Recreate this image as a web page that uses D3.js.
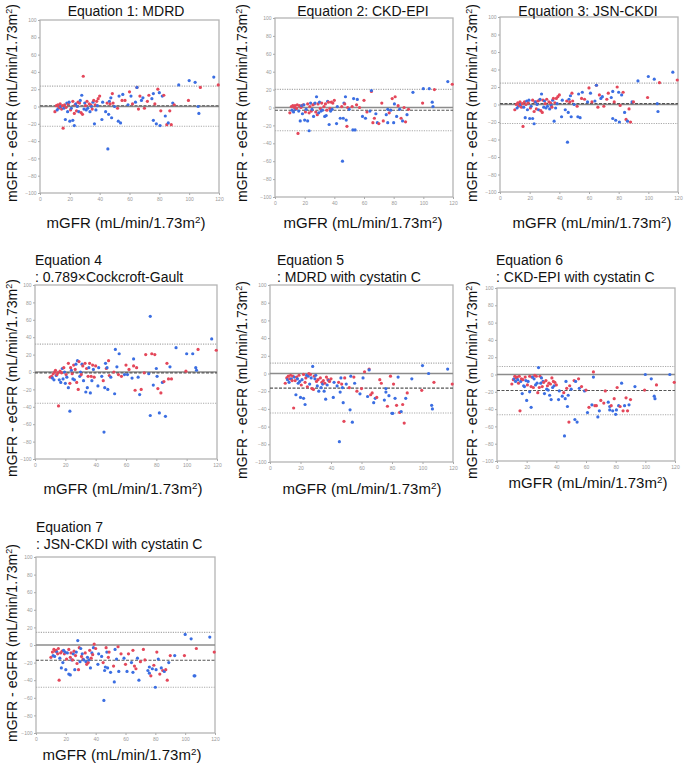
<!DOCTYPE html>
<html>
<head>
<meta charset="utf-8">
<script src="https://cdn.jsdelivr.net/npm/d3@7"></script>
<style>
  body { margin: 0; background: #fff; }
  svg { display: block; font-family: "Liberation Sans", Arial, sans-serif; }
  .tick text { fill: #999; font-size: 5px; }
  .tick line { stroke: #aaa; }
  .domain { display: none; }
</style>
</head>
<body>
<svg id="chart" width="685" height="763"></svg>
<script>
'use strict';

// measured GFR for each patient (same patients in all 7 panels)
const mgfr = [10, 11, 11.5, 12, 12.5, 13, 13.5, 14, 14.5, 15,
    15.5, 16, 16.5, 17, 17.5, 18, 18.5, 19, 19.5, 20,
    20.5, 21, 22, 22, 23, 23, 23.5, 24, 24.5, 25,
    25.5, 26, 26.5, 27, 27.5, 28, 28.5, 29, 29.5, 30,
    30.5, 31, 31.5, 32, 33, 33.5, 34, 34.5, 35, 35.5,
    36, 36.5, 37, 37.5, 38, 38.5, 39, 40, 41.5, 42,
    44, 45, 45.5, 46, 46.5, 47, 47.5, 48, 48.5, 49,
    50, 52, 52.5, 53, 54, 55, 55.5, 57, 59, 60,
    61, 62, 64, 65, 65, 66, 67, 68, 69, 70,
    72, 73, 75, 76, 76, 77, 78, 79, 80, 80.5,
    81, 82, 83, 84, 85, 86, 87, 88, 89, 90,
    93, 99.5, 100, 104, 106, 106.5, 107.5, 116.5, 119.5];

// r = red group, b = blue group
const group = ["r", "r", "b", "r", "b", "r", "r", "b", "r", "r",
    "r", "b", "r", "b", "r", "b", "b", "r", "b", "b",
    "r", "b", "r", "b", "r", "b", "r", "b", "r", "b",
    "r", "b", "r", "b", "r", "b", "r", "r", "b", "b",
    "r", "b", "r", "b", "r", "b", "r", "b", "r", "b",
    "r", "b", "r", "b", "r", "b", "r", "r", "b", "b",
    "b", "r", "b", "b", "b", "r", "b", "b", "r", "r",
    "b", "r", "b", "b", "b", "r", "b", "r", "b", "r",
    "b", "r", "b", "r", "b", "r", "r", "b", "b", "r",
    "r", "r", "b", "b", "b", "r", "b", "r", "b", "b",
    "r", "b", "r", "b", "r", "b", "r", "r", "b", "r",
    "b", "r", "b", "b", "b", "b", "r", "b", "r"];

// mGFR - eGFR for each equation
const diffMDRD = [-6, 1, -4, 2, -2, -1, 3, 0, -3, 1,
    -25, -2, 2, -15, -1, 4, -6, 3, 5, -17,
    -4, -2, 6, -16, -8, -22, 2, 3, -5, 0,
    5, -6, 4, 7, -7, 13, -9, 35, -3, 4,
    1, -4, 6, -2, 3, -6, 2, 0, -3, 5,
    7, -20, 2, -4, 6, 1, 9, 12, -15, 5,
    -6, 4, -49, -9, 6, 3, 10, -13, 15, 4,
    0, -2, -17, 12, -19, 7, 14, 7, 2, 17,
    12, 3, 5, 22, 22, -3, 12, 7, 10, -2,
    6, 13, 9, -16, 15, 3, -20, 20, 16, -22,
    -5, 12, 13, -11, -21, -19, -5, -21, 4, 2,
    25, 7, 30, 28, 0, -8, 22, 34, 25];

const diffCKDEPI = [-6, 1, -3, 2, -5, 0, 2, -2, -1, 3,
    -29, -4, 2, -15, 0, 2, -7, 3, 3, -14,
    -5, -2, 4, -15, -6, -26, 1, 5, -4, -2,
    3, -10, 4, 5, -5, 12, -8, 4, -6, 6,
    -1, -4, 5, -3, 1, -10, 4, -9, -3, 7,
    6, -19, -1, -4, 6, -2, 5, 8, -18, 1,
    -12, 1, -60, -12, 5, 4, 12, -14, -21, 0,
    -2, 1, -25, 10, -25, 3, 9, 0, -10, 8,
    -12, -5, -4, 18, 19, -17, -12, -7, -17, -18,
    5, -15, -8, -17, -2, -6, -3, 10, -17, 4,
    12, -10, 2, -2, -12, -15, 0, -16, -8, -2,
    17, 5, 21, 21, 6, 1, 20, 29, 26];

const diffJSN = [-6, 0, -4, 2, -2, -1, 3, 0, -3, 1,
    -25, -3, 3, -15, 0, 4, -6, 2, 5, -16,
    -4, -2, 5, -16, -8, -22, 3, 3, -5, 0,
    4, -6, 5, 6, -7, 12, -9, 5, -3, 4,
    1, -4, 6, -2, 3, -5, 2, -1, -3, 5,
    7, -19, 2, -4, 7, 1, 9, 11, -14, 5,
    -6, 4, -43, -9, 6, 3, 10, -14, 13, 4,
    0, -2, -14, 12, -15, 7, 14, 6, 3, 19,
    13, 3, 4, 22, 22, -3, 11, 7, 9, -2,
    6, 13, 8, -16, 15, 3, -18, 20, 14, -20,
    -1, 11, 14, -9, -17, -19, -5, -20, 3, 3,
    27, 8, 32, 29, 1, -8, 25, 37, 28];

const diffCG = [-6, -5, -7, -2, -9, 0, 2, -4, -3, -1,
    -39, -9, 1, -12, -1, 4, -8, 5, 0, -13,
    -3, -6, 10, -18, -13, -45, 5, 2, -2, -8,
    8, -9, 3, 9, -12, 13, -20, 12, -5, 0,
    -3, 9, 7, -10, 10, -23, 4, -18, -5, 5,
    10, -24, -5, -10, 8, 3, -6, 7, -16, 5,
    -5, -10, -69, -18, 10, 4, 5, -20, 13, -4,
    -6, 0, -25, 26, 6, -3, 21, -5, -3, 8,
    -3, 3, -7, 7, 15, -21, 5, -6, -26, -20,
    -1, 20, -2, -50, 64, 21, -15, 20, 4, -5,
    -19, -47, -24, -12, -11, -51, 10, -8, 6, -8,
    28, 1, 21, 21, 5, 2, 26, 38, 25];

const diffMDRDcys = [-11, -5, -7, -3, -10, -6, -2, -6, -8, -3,
    -39, -4, -8, -24, -4, -6, -11, -2, -9, -27,
    -13, -7, -1, -28, -10, -35, -5, -2, -15, -3,
    0, -12, -1, -5, -17, 8, -18, -3, -6, -2,
    -9, -14, -7, -20, -5, -16, -10, -12, -8, -20,
    -11, -29, -4, -13, -7, -8, -9, -6, -27, -10,
    -14, -10, -77, -21, -5, -12, -16, -33, -54, -5,
    -12, -16, -41, -3, -55, -4, -11, -20, -23, -17,
    -5, 2, -26, 5, 4, -24, -22, -33, -28, -27,
    -7, -11, -30, -21, -17, -37, -25, -3, -45, -45,
    -12, -28, -36, -4, -44, -43, -35, -56, -28, -22,
    -6, -19, 9, 0, -36, -40, -10, 5, -12];

const diffCKDEPIcys = [-11, -6, -5, -2, -8, -4, -3, -6, -10, -2,
    -42, -8, -5, -22, -6, -13, -14, -3, -7, -30,
    -12, -8, -2, -20, -14, -38, -3, -3, -15, -5,
    -1, -12, -2, -10, -21, 8, -15, -2, -10, -4,
    -14, -8, -9, -22, -7, -17, -13, -18, -10, -24,
    -11, -29, -4, -15, -8, -13, -9, -12, -29, -19,
    -25, -21, -71, -28, -8, -16, -37, -24, -55, -13,
    -17, -7, -52, -8, -55, -5, -16, -14, -19, -18,
    -44, -38, -35, 3, -3, -36, -36, -49, -42, -30,
    -33, -19, -32, -37, -41, -36, -42, -28, -46, -41,
    -15, -36, -37, -10, -42, -36, -27, -42, -35, -29,
    -14, -18, 0, -5, -25, -28, -12, 0, -9];

const diffJSNcys = [-14, -8, -12, -5, -13, -7, -6, -8, -10, -4,
    -40, -15, -9, -26, -7, -20, -6, -10, -8, -28,
    -16, -9, -5, -33, -14, -34, -9, -17, -17, -10,
    -7, -28, -12, -8, -21, 5, -28, -3, -19, -4,
    -13, -10, -16, -17, -9, -19, -22, -14, -20, -17,
    -6, -26, -15, -9, -11, -3, 1, -4, -22, -10,
    -13, -20, -63, -29, -25, -3, -8, -26, -14, -8,
    -31, -24, -42, -5, -16, -2, -30, -10, -15, -22,
    -30, -10, -20, -6, -31, -24, -27, -15, -40, -19,
    -5, -17, -29, -32, -25, -35, -27, -23, -48, -28,
    -8, -16, -33, -26, -29, -30, -28, -40, -20, -12,
    -12, -12, 12, 7, -35, -35, -4, 9, -8];

// Bland-Altman lines: mean bias and 95% limits of agreement
const meanBias = [0.8, -3, 1, -1, -16.5, -18.5, -17.4];
const upperLoA = [23.5, 20.2, 24.4, 32, 11.7, 9.2, 14.4];
const lowerLoA = [-22.8, -26, -21.7, -36, -44.7, -46.6, -48];

const titles = [
    ["Equation 1: MDRD"],
    ["Equation 2: CKD-EPI"],
    ["Equation 3: JSN-CKDI"],
    ["Equation 4", ": 0.789\u00d7Cockcroft-Gault"],
    ["Equation 5", ": MDRD with cystatin C"],
    ["Equation 6", ": CKD-EPI with cystatin C"],
    ["Equation 7", ": JSN-CKDI with cystatin C"]
];
const diffs = [diffMDRD, diffCKDEPI, diffJSN, diffCG, diffMDRDcys, diffCKDEPIcys, diffJSNcys];

const xTicks = [0, 20, 40, 60, 80, 100, 120];
const yTicks = [-100, -80, -60, -40, -20, 0, 20, 40, 60, 80, 100];

// panel placement on the page (plot box + label anchors)
const layout = [
    { x0: 40, x1: 219, y0: 20, y1: 193, tx: 126, ty: 16, xl: 126, xly: 228, yl: 17, yly: 103 },
    { x0: 275, x1: 453, y0: 18, y1: 197, tx: 363, ty: 16, xl: 363, xly: 228, yl: 247, yly: 103 },
    { x0: 500, x1: 678, y0: 17, y1: 192, tx: 588, ty: 16, xl: 592, xly: 228, yl: 477, yly: 103 },
    { x0: 35, x1: 217, y0: 285, y1: 459, tx: 35, ty: 265, xl: 123, xly: 494, yl: 17, yly: 378 },
    { x0: 270, x1: 453, y0: 285, y1: 462, tx: 277, ty: 265, xl: 362, xly: 494, yl: 247, yly: 380 },
    { x0: 497, x1: 675, y0: 288, y1: 461, tx: 496, ty: 265, xl: 588, xly: 488, yl: 477, yly: 380 },
    { x0: 36, x1: 215, y0: 557, y1: 733, tx: 36, ty: 532, xl: 122, xly: 760, yl: 17, yly: 643 }
];

const color = { r: "#e4475a", b: "#3b6ee2" };

const svg = d3.select("#chart");

// append "...1.73m" + superscript 2 + ")"
function unitLabel(sel, prefix) {
    sel.append("tspan").text(prefix + " (mL/min/1.73m");
    sel.append("tspan").attr("font-size", "0.65em").attr("dy", "-0.55em").text("2");
    sel.append("tspan").attr("dy", "0.35em").text(")");
}

layout.forEach((L, k) => {
    const g = svg.append("g");
    const xScale = d3.scaleLinear().domain([0, 120]).range([L.x0, L.x1]);
    const yScale = d3.scaleLinear().domain([-100, 100]).range([L.y1, L.y0]);

    // frame
    g.append("rect")
        .attr("x", L.x0).attr("y", L.y0)
        .attr("width", L.x1 - L.x0).attr("height", L.y1 - L.y0)
        .attr("fill", "none").attr("stroke", "#b4b4b4").attr("stroke-width", 1.3);

    g.append("g")
        .attr("transform", "translate(" + L.x0 + ",0)")
        .call(d3.axisLeft(yScale).tickValues(yTicks).tickSize(2).tickPadding(1.5));
    g.append("g")
        .attr("transform", "translate(0," + L.y1 + ")")
        .call(d3.axisBottom(xScale).tickValues(xTicks).tickSize(2).tickPadding(2));

    // zero line
    g.append("line")
        .attr("x1", L.x0).attr("x2", L.x1)
        .attr("y1", yScale(0)).attr("y2", yScale(0))
        .attr("stroke", "#8c8c8c").attr("stroke-width", 1.4);

    // limits of agreement
    [upperLoA[k], lowerLoA[k]].forEach(v => {
        g.append("line")
            .attr("x1", L.x0).attr("x2", L.x1)
            .attr("y1", yScale(v)).attr("y2", yScale(v))
            .attr("stroke", "#aaa").attr("stroke-width", 1.1)
            .attr("stroke-dasharray", "1.2,1.2");
    });

    // mean bias
    g.append("line")
        .attr("x1", L.x0).attr("x2", L.x1)
        .attr("y1", yScale(meanBias[k])).attr("y2", yScale(meanBias[k]))
        .attr("stroke", "#555").attr("stroke-width", 1.1)
        .attr("stroke-dasharray", "3,1.5");

    // points
    g.selectAll("circle.pt")
        .data(mgfr.map((x, i) => ({ x: x, y: diffs[k][i], grp: group[i] })))
        .enter()
        .append("circle")
        .attr("class", "pt")
        .attr("cx", d => xScale(d.x))
        .attr("cy", d => yScale(d.y))
        .attr("r", 1.6)
        .attr("fill", d => color[d.grp]);

    // title
    const t = titles[k];
    if (t.length === 1) {
        g.append("text")
            .attr("x", L.tx).attr("y", L.ty)
            .attr("text-anchor", "middle")
            .attr("font-size", 14).attr("fill", "#111")
            .text(t[0]);
    } else {
        t.forEach((line, j) => {
            g.append("text")
                .attr("x", L.tx).attr("y", L.ty + j * 17)
                .attr("font-size", 14).attr("fill", "#111")
                .text(line);
        });
    }

    // axis titles
    const xl = g.append("text")
        .attr("x", L.xl).attr("y", L.xly)
        .attr("text-anchor", "middle")
        .attr("font-size", 15).attr("fill", "#111");
    unitLabel(xl, "mGFR");

    const yl = g.append("text")
        .attr("transform", "translate(" + L.yl + "," + L.yly + ") rotate(-90)")
        .attr("text-anchor", "middle")
        .attr("font-size", 14).attr("fill", "#111");
    unitLabel(yl, "mGFR - eGFR");
});
</script>
</body>
</html>
